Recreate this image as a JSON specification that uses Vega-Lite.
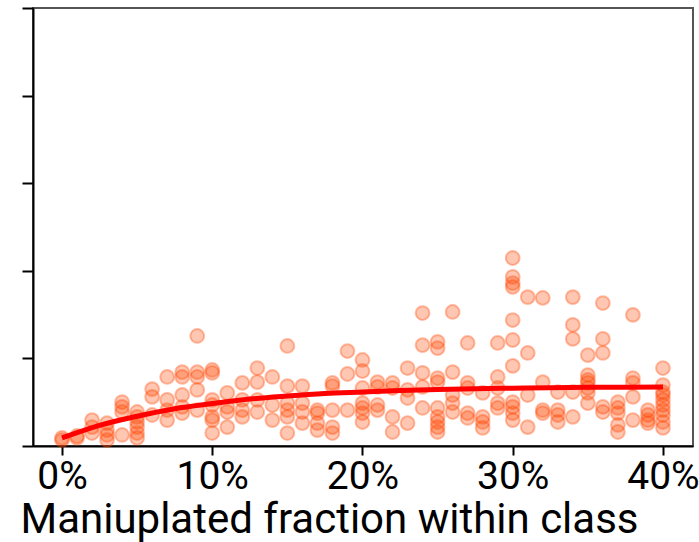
{
  "$schema": "https://vega.github.io/schema/vega-lite/v6.json",
  "width": 660,
  "height": 438,
  "autosize": {"type": "none"},
  "padding": {"left": 33, "top": 8, "right": 6, "bottom": 96},
  "background": "white",
  "config": {
    "view": {"stroke": "#555555", "strokeWidth": 2},
    "font": "Roboto"
  },
  "datasets": {
    "samples": [
      {"frac": 0.00, "score": 0.46}, {"frac": 0.00, "score": 0.34},
      {"frac": 0.01, "score": 0.57}, {"frac": 0.01, "score": 0.46},
      {"frac": 0.02, "score": 1.48}, {"frac": 0.02, "score": 1.08}, {"frac": 0.02, "score": 0.74},
      {"frac": 0.03, "score": 1.31}, {"frac": 0.03, "score": 0.91}, {"frac": 0.03, "score": 0.63}, {"frac": 0.03, "score": 0.34},
      {"frac": 0.04, "score": 2.51}, {"frac": 0.04, "score": 2.23}, {"frac": 0.04, "score": 1.94}, {"frac": 0.04, "score": 0.63},
      {"frac": 0.05, "score": 1.94}, {"frac": 0.05, "score": 1.66}, {"frac": 0.05, "score": 1.37}, {"frac": 0.05, "score": 1.08}, {"frac": 0.05, "score": 0.74}, {"frac": 0.05, "score": 0.46},
      {"frac": 0.06, "score": 3.25}, {"frac": 0.06, "score": 2.80}, {"frac": 0.06, "score": 1.77},
      {"frac": 0.07, "score": 3.94}, {"frac": 0.07, "score": 2.63}, {"frac": 0.07, "score": 2.05}, {"frac": 0.07, "score": 1.48},
      {"frac": 0.08, "score": 4.22}, {"frac": 0.08, "score": 3.94}, {"frac": 0.08, "score": 2.91}, {"frac": 0.08, "score": 2.23}, {"frac": 0.08, "score": 1.88},
      {"frac": 0.09, "score": 6.28}, {"frac": 0.09, "score": 4.22}, {"frac": 0.09, "score": 3.94}, {"frac": 0.09, "score": 3.20}, {"frac": 0.09, "score": 2.05},
      {"frac": 0.10, "score": 4.34}, {"frac": 0.10, "score": 4.17}, {"frac": 0.10, "score": 2.63}, {"frac": 0.10, "score": 2.34}, {"frac": 0.10, "score": 1.66}, {"frac": 0.10, "score": 1.48}, {"frac": 0.10, "score": 0.74},
      {"frac": 0.11, "score": 3.03}, {"frac": 0.11, "score": 2.23}, {"frac": 0.11, "score": 1.94}, {"frac": 0.11, "score": 1.08},
      {"frac": 0.12, "score": 3.60}, {"frac": 0.12, "score": 2.63}, {"frac": 0.12, "score": 2.05}, {"frac": 0.12, "score": 1.66},
      {"frac": 0.13, "score": 4.45}, {"frac": 0.13, "score": 3.65}, {"frac": 0.13, "score": 2.63}, {"frac": 0.13, "score": 1.94},
      {"frac": 0.14, "score": 3.94}, {"frac": 0.14, "score": 2.34}, {"frac": 0.14, "score": 1.48},
      {"frac": 0.15, "score": 5.71}, {"frac": 0.15, "score": 3.42}, {"frac": 0.15, "score": 2.45}, {"frac": 0.15, "score": 2.05}, {"frac": 0.15, "score": 1.66}, {"frac": 0.15, "score": 0.74},
      {"frac": 0.16, "score": 3.42}, {"frac": 0.16, "score": 2.45}, {"frac": 0.16, "score": 1.94}, {"frac": 0.16, "score": 1.31},
      {"frac": 0.17, "score": 2.05}, {"frac": 0.17, "score": 1.88}, {"frac": 0.17, "score": 1.31}, {"frac": 0.17, "score": 0.91},
      {"frac": 0.18, "score": 3.60}, {"frac": 0.18, "score": 3.42}, {"frac": 0.18, "score": 2.05}, {"frac": 0.18, "score": 1.08}, {"frac": 0.18, "score": 0.74},
      {"frac": 0.19, "score": 5.42}, {"frac": 0.19, "score": 4.11}, {"frac": 0.19, "score": 2.05},
      {"frac": 0.20, "score": 4.91}, {"frac": 0.20, "score": 4.28}, {"frac": 0.20, "score": 3.31}, {"frac": 0.20, "score": 2.45}, {"frac": 0.20, "score": 2.17}, {"frac": 0.20, "score": 1.88}, {"frac": 0.20, "score": 1.37},
      {"frac": 0.21, "score": 3.65}, {"frac": 0.21, "score": 3.37}, {"frac": 0.21, "score": 2.34}, {"frac": 0.21, "score": 2.05},
      {"frac": 0.22, "score": 3.60}, {"frac": 0.22, "score": 3.31}, {"frac": 0.22, "score": 1.66}, {"frac": 0.22, "score": 0.80},
      {"frac": 0.23, "score": 4.45}, {"frac": 0.23, "score": 3.20}, {"frac": 0.23, "score": 2.74}, {"frac": 0.23, "score": 1.31},
      {"frac": 0.24, "score": 7.59}, {"frac": 0.24, "score": 5.76}, {"frac": 0.24, "score": 4.17}, {"frac": 0.24, "score": 3.37}, {"frac": 0.24, "score": 2.17},
      {"frac": 0.25, "score": 5.94}, {"frac": 0.25, "score": 5.59}, {"frac": 0.25, "score": 3.88}, {"frac": 0.25, "score": 3.65}, {"frac": 0.25, "score": 2.17}, {"frac": 0.25, "score": 1.66}, {"frac": 0.25, "score": 1.37}, {"frac": 0.25, "score": 1.08}, {"frac": 0.25, "score": 0.80},
      {"frac": 0.26, "score": 7.65}, {"frac": 0.26, "score": 4.22}, {"frac": 0.26, "score": 2.91}, {"frac": 0.26, "score": 2.45}, {"frac": 0.26, "score": 1.94},
      {"frac": 0.27, "score": 5.88}, {"frac": 0.27, "score": 3.60}, {"frac": 0.27, "score": 3.31}, {"frac": 0.27, "score": 1.88}, {"frac": 0.27, "score": 1.60},
      {"frac": 0.28, "score": 3.03}, {"frac": 0.28, "score": 1.66}, {"frac": 0.28, "score": 1.37}, {"frac": 0.28, "score": 1.03},
      {"frac": 0.29, "score": 5.88}, {"frac": 0.29, "score": 3.94}, {"frac": 0.29, "score": 3.31}, {"frac": 0.29, "score": 2.45}, {"frac": 0.29, "score": 2.17},
      {"frac": 0.30, "score": 10.73}, {"frac": 0.30, "score": 9.65}, {"frac": 0.30, "score": 9.30}, {"frac": 0.30, "score": 9.08}, {"frac": 0.30, "score": 7.19}, {"frac": 0.30, "score": 6.05}, {"frac": 0.30, "score": 4.57}, {"frac": 0.30, "score": 2.51}, {"frac": 0.30, "score": 2.23}, {"frac": 0.30, "score": 1.88}, {"frac": 0.30, "score": 1.48},
      {"frac": 0.31, "score": 8.50}, {"frac": 0.31, "score": 5.31}, {"frac": 0.31, "score": 2.91}, {"frac": 0.31, "score": 1.08},
      {"frac": 0.32, "score": 8.45}, {"frac": 0.32, "score": 3.65}, {"frac": 0.32, "score": 2.05}, {"frac": 0.32, "score": 1.88},
      {"frac": 0.33, "score": 3.08}, {"frac": 0.33, "score": 2.05}, {"frac": 0.33, "score": 1.77}, {"frac": 0.33, "score": 1.37},
      {"frac": 0.34, "score": 8.50}, {"frac": 0.34, "score": 6.91}, {"frac": 0.34, "score": 6.11}, {"frac": 0.34, "score": 3.08}, {"frac": 0.34, "score": 1.66},
      {"frac": 0.35, "score": 5.19}, {"frac": 0.35, "score": 4.05}, {"frac": 0.35, "score": 3.77}, {"frac": 0.35, "score": 3.60}, {"frac": 0.35, "score": 3.31}, {"frac": 0.35, "score": 3.03}, {"frac": 0.35, "score": 2.45},
      {"frac": 0.36, "score": 8.16}, {"frac": 0.36, "score": 6.11}, {"frac": 0.36, "score": 5.31}, {"frac": 0.36, "score": 2.23}, {"frac": 0.36, "score": 1.94},
      {"frac": 0.37, "score": 2.51}, {"frac": 0.37, "score": 2.17}, {"frac": 0.37, "score": 1.88}, {"frac": 0.37, "score": 1.20}, {"frac": 0.37, "score": 0.80},
      {"frac": 0.38, "score": 7.48}, {"frac": 0.38, "score": 3.88}, {"frac": 0.38, "score": 3.60}, {"frac": 0.38, "score": 2.80}, {"frac": 0.38, "score": 1.48},
      {"frac": 0.39, "score": 2.05}, {"frac": 0.39, "score": 1.77}, {"frac": 0.39, "score": 1.48}, {"frac": 0.39, "score": 1.31},
      {"frac": 0.40, "score": 4.45}, {"frac": 0.40, "score": 3.48}, {"frac": 0.40, "score": 3.08}, {"frac": 0.40, "score": 2.91}, {"frac": 0.40, "score": 2.63}, {"frac": 0.40, "score": 2.34}, {"frac": 0.40, "score": 2.05}, {"frac": 0.40, "score": 1.77}, {"frac": 0.40, "score": 1.37}, {"frac": 0.40, "score": 1.03}
    ],
    "trend": [
      {"frac": 0.000, "score": 0.46}, {"frac": 0.025, "score": 1.18}, {"frac": 0.050, "score": 1.70},
      {"frac": 0.075, "score": 2.13}, {"frac": 0.100, "score": 2.42}, {"frac": 0.125, "score": 2.68},
      {"frac": 0.150, "score": 2.85}, {"frac": 0.175, "score": 2.99}, {"frac": 0.200, "score": 3.08},
      {"frac": 0.225, "score": 3.17}, {"frac": 0.250, "score": 3.23}, {"frac": 0.275, "score": 3.27},
      {"frac": 0.300, "score": 3.30}, {"frac": 0.325, "score": 3.33}, {"frac": 0.350, "score": 3.35},
      {"frac": 0.375, "score": 3.36}, {"frac": 0.400, "score": 3.37}
    ]
  },
  "encoding": {
    "x": {
      "field": "frac",
      "type": "quantitative",
      "scale": {"domain": [-0.0193, 0.42], "nice": false, "zero": false},
      "axis": {
        "values": [0, 0.1, 0.2, 0.3, 0.4],
        "format": ".0%",
        "title": "Maniuplated fraction within class",
        "grid": false,
        "domainColor": "black",
        "domainWidth": 2,
        "tickColor": "black",
        "tickWidth": 2,
        "tickSize": 9,
        "labelFontSize": 39,
        "labelColor": "black",
        "labelPadding": 2,
        "labelFont": "Roboto",
        "labelOverlap": false,
        "titleFont": "Roboto",
        "titleFontSize": 42,
        "titleFontWeight": "normal",
        "titleColor": "black",
        "titlePadding": 3,
        "titleX": 296,
        "titleAlign": "center"
      }
    },
    "y": {
      "field": "score",
      "type": "quantitative",
      "scale": {"domain": [0, 25], "nice": false},
      "axis": {
        "values": [0, 5, 10, 15, 20, 25],
        "labels": false,
        "title": null,
        "grid": false,
        "domainColor": "black",
        "domainWidth": 2,
        "tickColor": "black",
        "tickWidth": 2,
        "tickSize": 11
      }
    }
  },
  "layer": [
    {
      "data": {"name": "samples"},
      "mark": {
        "type": "point",
        "shape": "circle",
        "filled": true,
        "size": 190,
        "fill": "#ff4500",
        "fillOpacity": 0.3,
        "stroke": "#ff4500",
        "strokeOpacity": 0.35,
        "strokeWidth": 2
      }
    },
    {
      "data": {"name": "trend"},
      "mark": {"type": "line", "color": "#ff0000", "strokeWidth": 5, "interpolate": "monotone"}
    }
  ]
}
